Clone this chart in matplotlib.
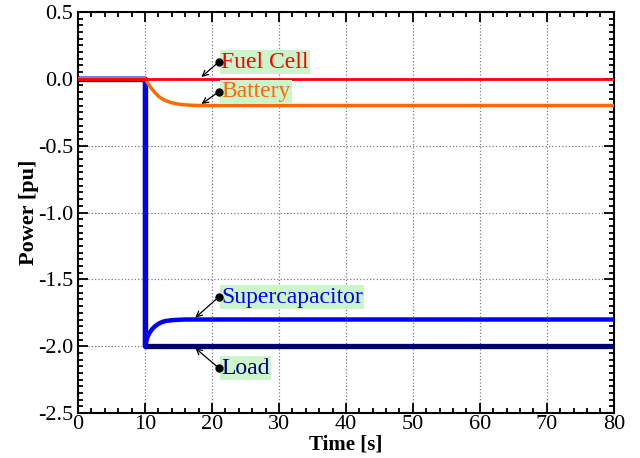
import numpy as np
import matplotlib.pyplot as plt
from matplotlib.ticker import MultipleLocator

SERIF = 'Liberation Serif'
plt.rcParams['font.family'] = SERIF
plt.rcParams['axes.unicode_minus'] = False

# 读图得到的数据点
t_step = [0, 10, 10, 80]
fuel_cell = [0, 0, 0, 0]
load = [0, 0, -2.0, -2.0]

t_batt = [0, 10, 10.5, 11, 11.5, 12, 12.5, 13, 14, 15, 16, 17, 18, 80]
battery = [0, 0, -0.04, -0.075, -0.105, -0.13, -0.148, -0.162, -0.18, -0.19, -0.195, -0.198, -0.2, -0.2]

t_sc = [0, 10, 10, 10.3, 10.6, 11, 11.5, 12, 12.5, 13, 14, 15, 16, 80]
supercap = [0, 0, -2.0, -1.94, -1.905, -1.875, -1.85, -1.832, -1.82, -1.812, -1.805, -1.802, -1.8, -1.8]

labels = ['Fuel Cell', 'Battery', 'Supercapacitor', 'Load']
text_xy = [(21, 0.125), (21, -0.098), (21, -1.632), (21, -2.163)]
arrow_xy = [(18.1, 0.0), (18.1, -0.2), (17.2, -1.8), (17.2, -2.0)]
colors = ['#ff0000', '#ff6a00', '#0000ff', '#00006e']

fig = plt.figure(figsize=(6.4, 4.58), dpi=100)
ax = fig.add_axes([0.122, 0.098, 0.837, 0.876])

ax.plot(t_step, load, color=colors[3], lw=3.8, zorder=2)
ax.plot(t_sc, supercap, color=colors[2], lw=3.2, zorder=3)
ax.plot(t_batt, battery, color=colors[1], lw=2.5, zorder=4)
ax.plot(t_step, fuel_cell, color=colors[0], lw=2, zorder=5)

for lab, (tx, ty), (axx, ayy), c in zip(labels, text_xy, arrow_xy, colors):
    ax.annotate('', xy=(axx, ayy), xytext=(tx, ty),
                arrowprops=dict(arrowstyle='->', color='black', lw=0.9), zorder=6)
    ax.plot(tx, ty, 'o', color='black', ms=5, zorder=7)
    ax.text(tx + 0.35, ty, lab, color=c, fontsize=17, va='center', ha='left', family=SERIF,
            bbox=dict(facecolor='#ccf5cc', edgecolor='none', pad=1), zorder=6)

ax.set_xlim(0, 80)
ax.set_ylim(-2.5, 0.5)
ax.xaxis.set_major_locator(MultipleLocator(10))
ax.xaxis.set_minor_locator(MultipleLocator(2))
ax.yaxis.set_major_locator(MultipleLocator(0.5))
ax.yaxis.set_minor_locator(MultipleLocator(0.05))
ax.yaxis.set_major_formatter(plt.FormatStrFormatter('%.1f'))
ax.tick_params(which='both', direction='in', top=True, right=True, labelsize=16, width=1.3)
ax.tick_params(which='major', length=7)
ax.tick_params(which='minor', length=3.5)
ax.tick_params(axis='x', pad=1)
for t in ax.get_xticklabels() + ax.get_yticklabels():
    t.set_family(SERIF)
for s in ax.spines.values():
    s.set_linewidth(1.5)
ax.grid(True, which='major', linestyle=':', color='gray', lw=0.9)

ax.set_xlabel('Time [s]', fontsize=15, fontweight='bold', labelpad=1, family=SERIF)
ax.set_ylabel('Power [pu]', fontsize=16, fontweight='bold', labelpad=-1, family=SERIF)

fig.savefig('out.png', dpi=100)
